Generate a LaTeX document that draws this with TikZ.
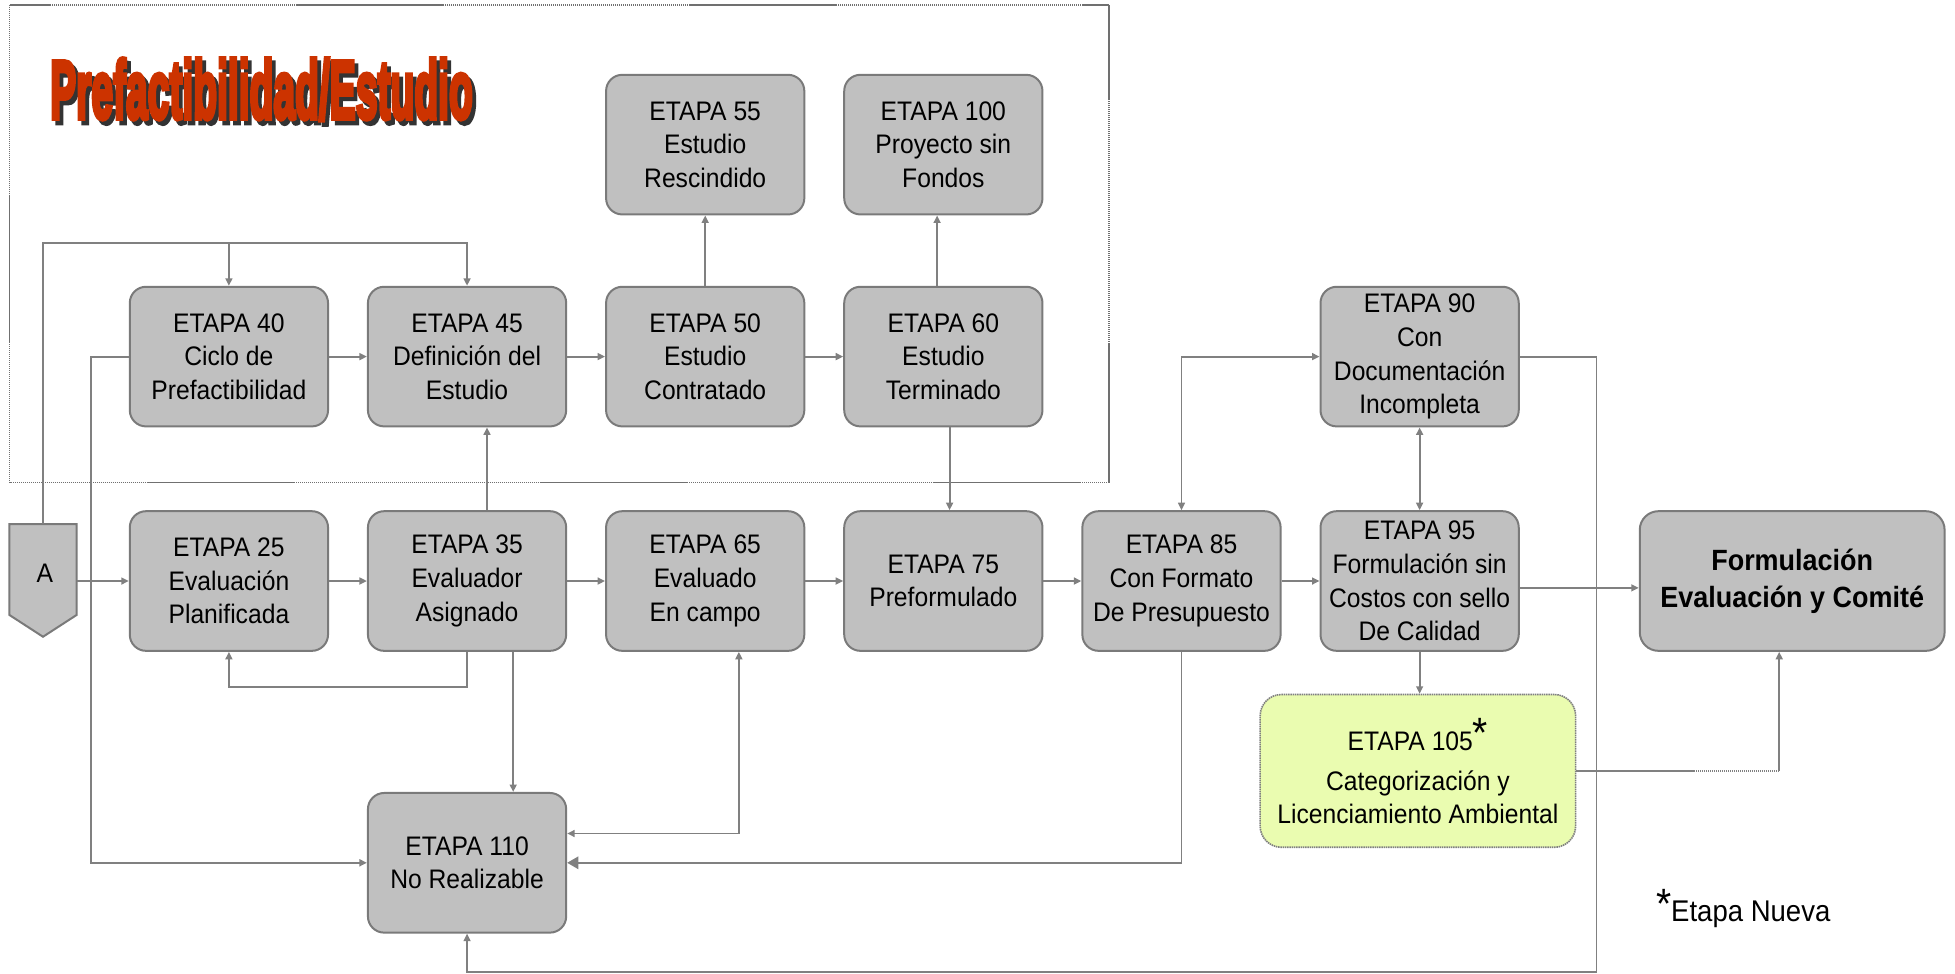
\documentclass[tikz,border=0pt]{standalone}
\usepackage{graphicx}
\usepackage{fontspec}
\setmainfont{Liberation Sans}[FakeStretch=0.92]
\newfontfamily\titlefont{Liberation Sans}[BoldFeatures={FakeBold=6}]
\usetikzlibrary{arrows.meta,calc}
\definecolor{boxgray}{HTML}{C0C0C0}
\definecolor{linegray}{HTML}{808080}
\definecolor{bordergray}{HTML}{7A7A7A}
\definecolor{framegray}{HTML}{707070}
\definecolor{titlered}{HTML}{CC3300}
\definecolor{shadowgray}{HTML}{333333}
\definecolor{newgreen}{HTML}{EAFCB0}
\newcommand{\titletext}{\resizebox{339pt}{48pt}{\titlefont\bfseries Prefactibilidad/Estudio}}
\begin{document}
\begin{tikzpicture}[x=1pt,y=-1pt,
 stage/.style={draw=bordergray, fill=boxgray, line width=1.6pt, rounded corners=13pt, minimum width=159pt, minimum height=112pt, inner sep=0pt, align=center, font=\fontsize{21.5}{27}\selectfont},
 newstage/.style={stage, fill=newgreen, draw=linegray, line width=1.3pt, dash pattern=on 1.2pt off 0.6pt, minimum width=253pt, minimum height=122.5pt, rounded corners=17pt},
 finalstage/.style={stage, minimum width=244.5pt, rounded corners=15pt, font=\fontsize{23.5}{30}\selectfont\bfseries},
 flow/.style={draw=linegray, line width=1.5pt, -{Triangle[length=6pt,width=5.5pt]}},
 flowboth/.style={draw=linegray, line width=1.5pt, {Triangle[length=6pt,width=5.5pt]}-{Triangle[length=6pt,width=5.5pt]}},
 flowbig/.style={draw=linegray, line width=1.5pt, -{Triangle[length=9pt,width=10pt]}},
 dotline/.style={draw=linegray, line width=1.4pt, dash pattern=on 1.1pt off 0.5pt},
 groupframe/.style={draw=framegray, line width=1.4pt, dash pattern=on 1.1pt off 0.5pt},
]
\useasboundingbox (0,0) rectangle (1568,781);

% dashed group frame
\draw[groupframe] (7.7,4) rectangle (889.5,387);

% title with shadow (one text)
\node[anchor=base west, inner sep=0pt] (title) at (40,95) {\rlap{\hspace{3pt}\raisebox{-3.5pt}{\color{shadowgray}\titletext}}\color{titlered}\titletext};

% stages
\node[stage] (B55) at (565.6,116) {ETAPA 55\\Estudio\\Rescindido};
\node[stage] (B100) at (756.6,116) {ETAPA 100\\Proyecto sin\\Fondos};
\node[stage] (B40) at (183.6,286) {ETAPA 40\\Ciclo de\\Prefactibilidad};
\node[stage] (B45) at (374.6,286) {ETAPA 45\\Definición del\\Estudio};
\node[stage] (B50) at (565.6,286) {ETAPA 50\\Estudio\\Contratado};
\node[stage] (B60) at (756.6,286) {ETAPA 60\\Estudio\\Terminado};
\node[stage] (B90) at (1138.6,286) {ETAPA 90\\Con\\Documentación\\Incompleta};
\node[stage] (B25) at (183.6,466) {ETAPA 25\\Evaluación\\Planificada};
\node[stage] (B35) at (374.6,466) {ETAPA 35\\Evaluador\\Asignado};
\node[stage] (B65) at (565.6,466) {ETAPA 65\\Evaluado\\En campo};
\node[stage] (B75) at (756.6,466) {ETAPA 75\\Preformulado};
\node[stage] (B85) at (947.6,466) {ETAPA 85\\Con Formato\\De Presupuesto};
\node[stage] (B95) at (1138.6,466) {ETAPA 95\\Formulación sin\\Costos con sello\\De Calidad};
\node[finalstage] (F) at (1437.4,466) {Formulación\\Evaluación y Comité};
\node[newstage] (B105) at (1137.2,618.3) {ETAPA 105\raisebox{2.5pt}{\fontsize{34}{34}\selectfont *}\\[5pt]Categorización y\\Licenciamiento Ambiental};
\node[stage] (B110) at (374.6,692) {ETAPA 110\\No Realizable};

% connector A (pentagon)
\node[minimum width=53.6pt, minimum height=90pt, inner sep=0pt] (A) at (34.5,465.5) {};
\draw[draw=bordergray, fill=boxgray, line width=1.6pt] (A.north west) -- (A.north east) -- ([yshift=17.5pt]A.south east) -- (A.south) -- ([yshift=17.5pt]A.south west) -- cycle;
\node[font=\fontsize{21.5}{27}\selectfont, inner sep=0pt] (Alabel) at (36,459.5) {A};

% connectors
\coordinate (Ttop) at (374.6,195);
\draw[flow] (A.north) |- (Ttop) -- (B45.north);
\draw[flow] (B40.north |- Ttop) -- (B40.north);
\draw[flow] (A.east |- B25.west) -- (B25.west);
\coordinate (Lx) at (72.7,286);
\draw[flow] (B40.west) -- (Lx) |- (B110.west);
\draw[flow] (B40.east) -- (B45.west);
\draw[flow] (B45.east) -- (B50.west);
\draw[flow] (B50.east) -- (B60.west);
\draw[flow] (B50.north) -- (B55.south);
\draw[flow] ([xshift=-5pt]B60.north) -- ([xshift=-5pt]B100.south);
\draw[flow] ([xshift=5pt]B60.south) -- ([xshift=5pt]B75.north);
\draw[flow] ([xshift=16pt]B35.north) -- ([xshift=16pt]B45.south);
\draw[flow] (B25.east) -- (B35.west);
\draw[flow] (B35.east) -- (B65.west);
\draw[flow] (B65.east) -- (B75.west);
\draw[flow] (B75.east) -- (B85.west);
\draw[flow] (B85.east) -- (B95.west);
\draw[flow] (B35.south) -- ([yshift=-28pt]B35.south) -| (B25.south);
\draw[flow] ([xshift=37pt]B35.south) -- ([xshift=37pt]B110.north);
\draw[flowboth] ([xshift=27pt]B65.south) |- ([yshift=23.5pt]B110.east);
\draw[flowbig] (B85.south) |- (B110.east);
\draw[flowboth] (B85.north) |- (B90.west);
\draw[flowboth] (B90.south) -- (B95.north);
\coordinate (Rc) at (1280.5,779.5);
\draw[flow] (B90.east) -| (Rc) -| (B110.south);
\draw[flow] ([yshift=-5.5pt]B95.east) -- ([yshift=-5.5pt]F.west);
\draw[flow] (B95.south) -- (B95.south |- B105.north);
\coordinate (Dc) at (1427,618.3);
\draw[dotline] (B105.east) -- (Dc);
\draw[flow] (Dc) -- (Dc |- F.south);

% legend
\node[anchor=base west, inner sep=0pt, font=\fontsize{24}{28}\selectfont] (legend) at (1328,739) {\raisebox{2pt}{\fontsize{34}{34}\selectfont *}Etapa Nueva};
\end{tikzpicture}
\end{document}
